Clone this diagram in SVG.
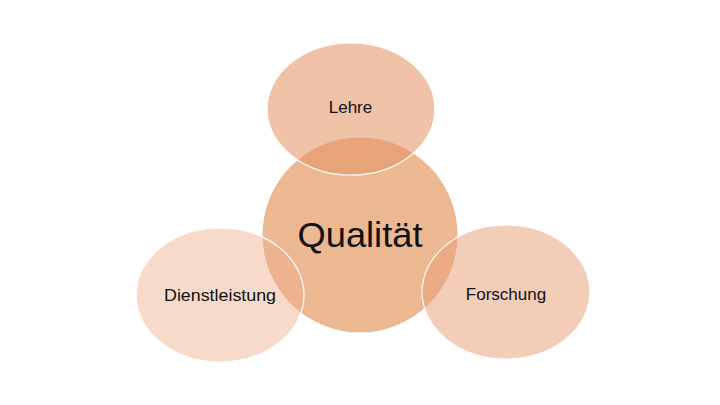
<svg xmlns="http://www.w3.org/2000/svg" width="720" height="405" viewBox="0 0 720 405">
<style>
.sat{stroke:#ffffff;stroke-width:1.2}
.lbl{font-family:"Liberation Sans",Arial,sans-serif;font-size:17px;fill:#111111;text-anchor:middle}
.main{font-family:"Liberation Sans",Arial,sans-serif;font-size:35px;fill:#111111;text-anchor:middle}
</style>
<rect width="720" height="405" fill="#ffffff"/>
<g id="center">
<circle cx="360" cy="235" r="97.5" fill="#EBB892"/>
<text class="main" x="360" y="247" textLength="125" lengthAdjust="spacingAndGlyphs">Qualität</text>
</g>
<g id="lehre">
<ellipse class="sat" cx="351" cy="109" rx="84" ry="66" fill="#E59466" fill-opacity="0.57"/>
<text class="lbl" x="350.5" y="113">Lehre</text>
</g>
<g id="dienstleistung">
<ellipse class="sat" cx="220" cy="295" rx="84" ry="67" fill="#EFAD8B" fill-opacity="0.45"/>
<text class="lbl" x="220" y="301" textLength="112" lengthAdjust="spacingAndGlyphs">Dienstleistung</text>
</g>
<g id="forschung">
<ellipse class="sat" cx="506" cy="292" rx="84" ry="67" fill="#EA9F78" fill-opacity="0.52"/>
<text class="lbl" x="506" y="300">Forschung</text>
</g>
<g id="connectors"/>
</svg>
